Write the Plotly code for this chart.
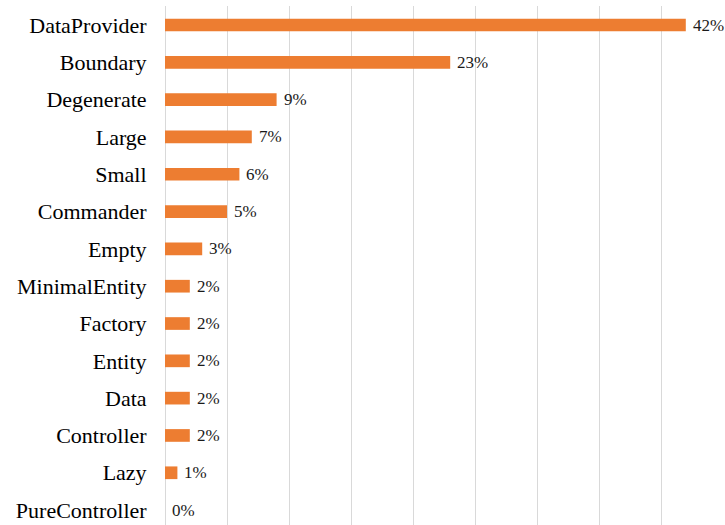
import plotly.graph_objects as go

categories = ["DataProvider", "Boundary", "Degenerate", "Large", "Small", "Commander",
              "Empty", "MinimalEntity", "Factory", "Entity", "Data", "Controller",
              "Lazy", "PureController"]
shares = [0.42, 0.23, 0.09, 0.07, 0.06, 0.05, 0.03, 0.02, 0.02, 0.02, 0.02, 0.02, 0.01, 0.0]

SERIF = "'Liberation Serif', 'Times New Roman', serif"

fig = go.Figure(go.Bar(
    x=shares,
    y=categories,
    orientation="h",
    width=0.34,
    marker=dict(color="#ED7D31", line=dict(width=0)),
    cliponaxis=False,
))

for cat, v in zip(categories, shares):
    fig.add_annotation(x=v, y=cat, text=f"{v:.0%}", showarrow=False,
                       xanchor="left", yanchor="middle", xshift=5,
                       font=dict(family=SERIF, size=17, color="#1a1a1a"))

fig.update_layout(
    width=725, height=525,
    margin=dict(l=165, r=2, t=6, b=0),
    paper_bgcolor="white", plot_bgcolor="white",
    font=dict(family=SERIF, color="#000000"),
    showlegend=False,
    xaxis=dict(range=[0, 0.45], dtick=0.05, showticklabels=False,
               showgrid=True, gridcolor="#d9d9d9", gridwidth=1,
               zeroline=True, zerolinecolor="#d9d9d9", zerolinewidth=1, showline=False),
    yaxis=dict(categoryorder="array", categoryarray=categories,
               range=[13.4, -0.51], showgrid=False, showline=False,
               ticks="outside", ticklen=13, tickcolor="rgba(0,0,0,0)",
               tickfont=dict(family=SERIF, size=22, color="#000000")),
)

fig.write_html("out.html")
